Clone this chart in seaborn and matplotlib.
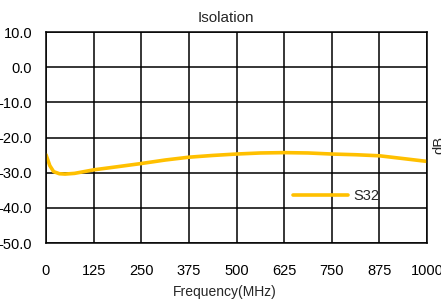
import numpy as np
import pandas as pd
import matplotlib
matplotlib.use("Agg")
from matplotlib import pyplot as plt
import seaborn as sns

# values
freq_mhz = [0, 10, 20, 35, 50, 75, 125, 188, 250, 313, 375, 438, 500,
            563, 625, 688, 750, 813, 875, 938, 1000]
s32_db = [-24.9, -28.0, -29.7, -30.3, -30.4, -30.2, -29.2, -28.3, -27.4,
          -26.4, -25.6, -25.1, -24.7, -24.4, -24.3, -24.4, -24.7, -24.9,
          -25.2, -26.0, -26.8]
x_ticks = [0, 125, 250, 375, 500, 625, 750, 875, 1000]
y_ticks = [-50, -40, -30, -20, -10, 0, 10]

data = pd.DataFrame({'Frequency': freq_mhz, 'S32': s32_db})

sns.set_style('white')
plt.rcParams['font.family'] = ['Liberation Sans', 'DejaVu Sans']

fig = plt.figure(figsize=(4.41, 3.0), dpi=100)
ax = fig.add_axes([46 / 441, 1 - 243 / 300, 381 / 441, 211 / 300])

sns.lineplot(x='Frequency', y='S32', data=data, ax=ax, color='#FFC000',
             linewidth=2.6, label='S32')

ax.set_xlim(0, 1000)
ax.set_ylim(-50, 10)
ax.set_xticks(x_ticks)
ax.set_yticks(y_ticks)
ax.set_yticklabels([f'{v:.1f}' for v in y_ticks])
ax.tick_params(axis='both', length=0, labelsize=10.5, colors='black')
ax.tick_params(axis='y', pad=10)
ax.tick_params(axis='x', pad=15)
ax.grid(True, color='black', linewidth=1.1)
for sp in ax.spines.values():
    sp.set_color('black')
    sp.set_linewidth(1.1)
ax.set_xlabel('')
ax.set_ylabel('')

leg = ax.legend(loc='center left', bbox_to_anchor=((293 - 46) / 381, (243 - 196) / 211),
                frameon=False, fontsize=10.5, handlelength=3.8, handletextpad=0.35,
                borderpad=0, borderaxespad=0)

fig.text(226 / 441, 1 - 18 / 300, 'Isolation', ha='center', va='center', fontsize=11)
fig.text(225 / 441, 1 - 292 / 300, 'Frequency(MHz)', ha='center', va='center', fontsize=10)
fig.text(432 / 441, 1 - 145 / 300, 'dB', ha='left', va='center', rotation=90, fontsize=10.5)

fig.savefig('out.png', dpi=100)
